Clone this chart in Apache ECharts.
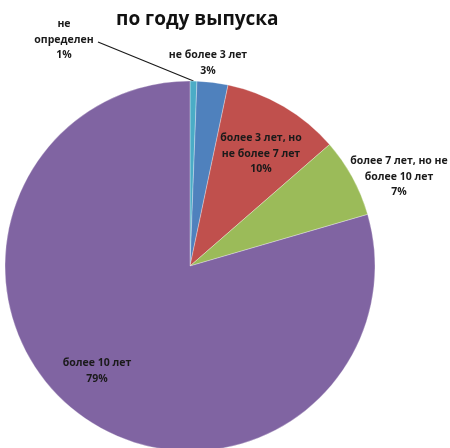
<!DOCTYPE html>
<html>
<head>
<meta charset="utf-8">
<script src="https://cdn.jsdelivr.net/npm/echarts@6/dist/echarts.min.js"></script>
<style>
  html, body { margin: 0; padding: 0; background: #ffffff; }
  #chart { width: 450px; height: 448px; }
</style>
</head>
<body>
<div id="chart"></div>
<script>
// Vehicle fleet split by year of manufacture (share of total)
const categories = [
  'не\nопределен',
  'не более 3 лет',
  'более 3 лет, но\nне более 7 лет',
  'более 7 лет, но не\nболее 10 лет',
  'более 10 лет'
];
const shares = [0.6, 2.7, 10.3, 6.9, 79.5];
const sliceColors = ['#4bacc6', '#4f81bd', '#c0504d', '#9bbb59', '#8064a2'];
const titleText = 'по году выпуска';

// label anchor points (centre of each text block)
const labelSpots = [
  [64, 40], [208, 63], [261, 154], [399, 177], [97, 371]
];

const chart = echarts.init(document.getElementById('chart'), null, { renderer: 'canvas' });

chart.setOption({
  animation: false,
  title: {
    text: titleText,
    left: 111,
    top: 5,
    textStyle: {
      fontFamily: 'Open Sans',
      fontWeight: 'bold',
      fontSize: 19,
      color: '#111111'
    }
  },
  series: [{
    type: 'pie',
    center: [190, 266],
    radius: [0, 185],
    startAngle: 90,
    clockwise: true,
    percentPrecision: 0,
    avoidLabelOverlap: false,
    itemStyle: { borderColor: 'rgba(255,255,255,0.5)', borderWidth: 0.6 },
    label: {
      show: true,
      position: 'outside',
      formatter: '{b}\n{d}%',
      fontFamily: 'Open Sans',
      fontWeight: 'bold',
      fontSize: 10.5,
      lineHeight: 15.5,
      color: '#1a1a1a',
      align: 'center'
    },
    labelLine: { show: false },
    labelLayout: function (params) {
      const p = labelSpots[params.dataIndex];
      const out = { x: p[0], y: p[1], align: 'center', verticalAlign: 'middle' };
      if (params.dataIndex === 0 && params.labelLinePoints) {
        // straight leader from the slice edge to the right end of the middle line
        const start = params.labelLinePoints[0];
        const end = [p[0] + 34, p[1] + 2];
        const mid = [(start[0] + end[0]) / 2, (start[1] + end[1]) / 2];
        out.labelLinePoints = [start, mid, end];
      }
      return out;
    },
    data: categories.map(function (name, i) {
      const item = {
        name: name,
        value: shares[i],
        itemStyle: { color: sliceColors[i] }
      };
      if (i === 0) {
        item.labelLine = { show: true, length: 20, length2: 20, lineStyle: { color: '#1a1a1a', width: 1.2 } };
      }
      return item;
    })
  }]
});
</script>
</body>
</html>
